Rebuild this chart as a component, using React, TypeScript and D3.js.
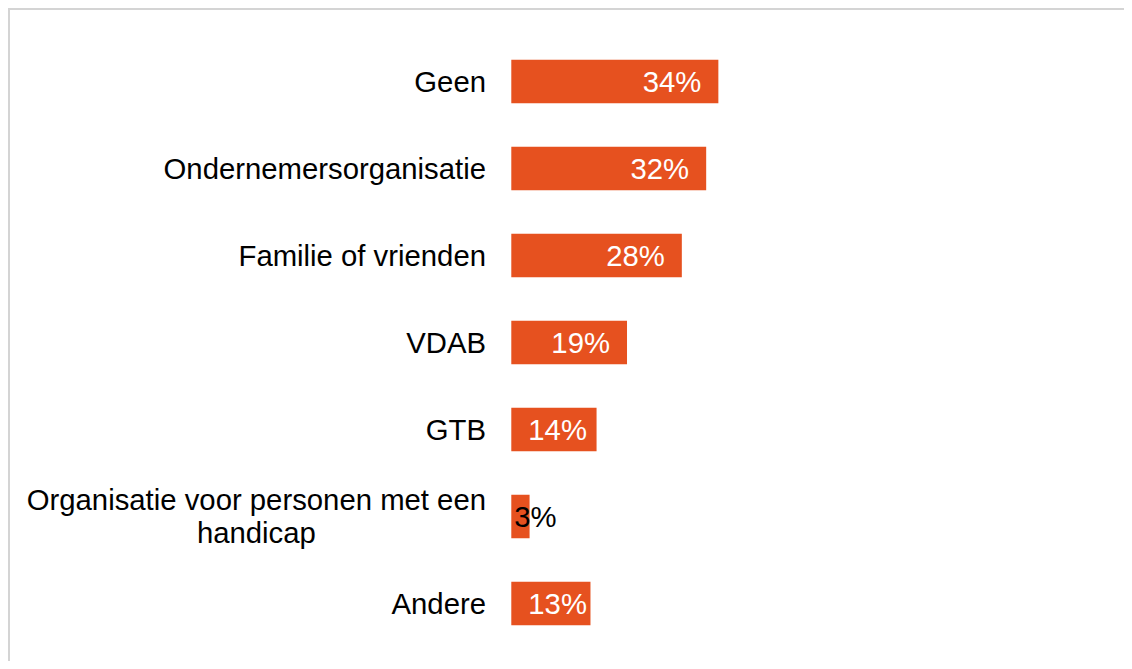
import React, { useEffect, useRef } from "react";
import * as d3 from "d3";

const categories: string[] = [
  "Geen",
  "Ondernemersorganisatie",
  "Familie of vrienden",
  "VDAB",
  "GTB",
  "Organisatie voor personen met een|handicap",
  "Andere",
];
const values: number[] = [34, 32, 28, 19, 14, 3, 13];
const valueLabels: string[] = ["34%", "32%", "28%", "19%", "14%", "3%", "13%"];

const W = 1116;
const FULL_W = 1124;
const H = 653;
const FONT = "'Liberation Sans', Arial, sans-serif";
const FS = 29.3;
const BAR = "#E6511F";

export default function App() {
  const ref = useRef<SVGSVGElement | null>(null);

  useEffect(() => {
    const svg = d3.select(ref.current);
    svg.selectAll("*").remove();

    // frame (top and left edges visible)
    svg.append("line").attr("x1", 0).attr("x2", FULL_W).attr("y1", 1).attr("y2", 1)
      .attr("stroke", "#d4d4d4").attr("stroke-width", 2);
    svg.append("line").attr("x1", 1).attr("x2", 1).attr("y1", 0).attr("y2", H)
      .attr("stroke", "#d4d4d4").attr("stroke-width", 2);

    const x = d3.scaleLinear().domain([0, 100]).range([503.3, 503.3 + 609]);
    const y = d3.scaleBand<string>().domain(categories).range([30, 639])
      .paddingInner(0.5).paddingOuter(0.25);

    const g = svg.append("g");

    categories.forEach((cat, i) => {
      const y0 = y(cat) as number;
      const cy = y0 + y.bandwidth() / 2;
      const x0 = x(0);
      const x1 = x(values[i]);

      g.append("rect")
        .attr("x", x0).attr("y", y0)
        .attr("width", x1 - x0).attr("height", y.bandwidth())
        .attr("fill", BAR);

      // category label
      const lines = cat.split("|");
      if (lines.length === 1) {
        g.append("text")
          .attr("x", 478).attr("y", cy + 10)
          .attr("text-anchor", "end")
          .attr("font-family", FONT).attr("font-size", FS)
          .attr("fill", "#000")
          .text(lines[0]);
      } else {
        const t1 = g.append("text")
          .attr("x", 478).attr("y", cy + 10 - 16.7)
          .attr("text-anchor", "end")
          .attr("font-family", FONT).attr("font-size", FS)
          .attr("fill", "#000")
          .text(lines[0]);
        const w1 = (t1.node() as SVGTextElement).getComputedTextLength();
        g.append("text")
          .attr("x", 478 - w1 / 2).attr("y", cy + 10 + 16.7)
          .attr("text-anchor", "middle")
          .attr("font-family", FONT).attr("font-size", FS)
          .attr("fill", "#000")
          .text(lines[1]);
      }

      // value label
      const vt = g.append("text")
        .attr("y", cy + 10)
        .attr("font-family", FONT).attr("font-size", FS)
        .text(valueLabels[i]);
      const tw = (vt.node() as SVGTextElement).getComputedTextLength();
      const barW = x1 - x0;
      if (barW < tw) {
        vt.attr("x", x0 + 3).attr("text-anchor", "start").attr("fill", "#000");
      } else {
        let start = x1 - 17 - tw;
        if (start < x0 + 17) start = x0 + 17;
        vt.attr("x", start).attr("text-anchor", "start").attr("fill", "#fff");
      }
    });
  }, []);

  return (
    <svg
      ref={ref}
      width={W}
      height={H}
      style={{ display: "block", overflow: "visible" }}
    />
  );
}
